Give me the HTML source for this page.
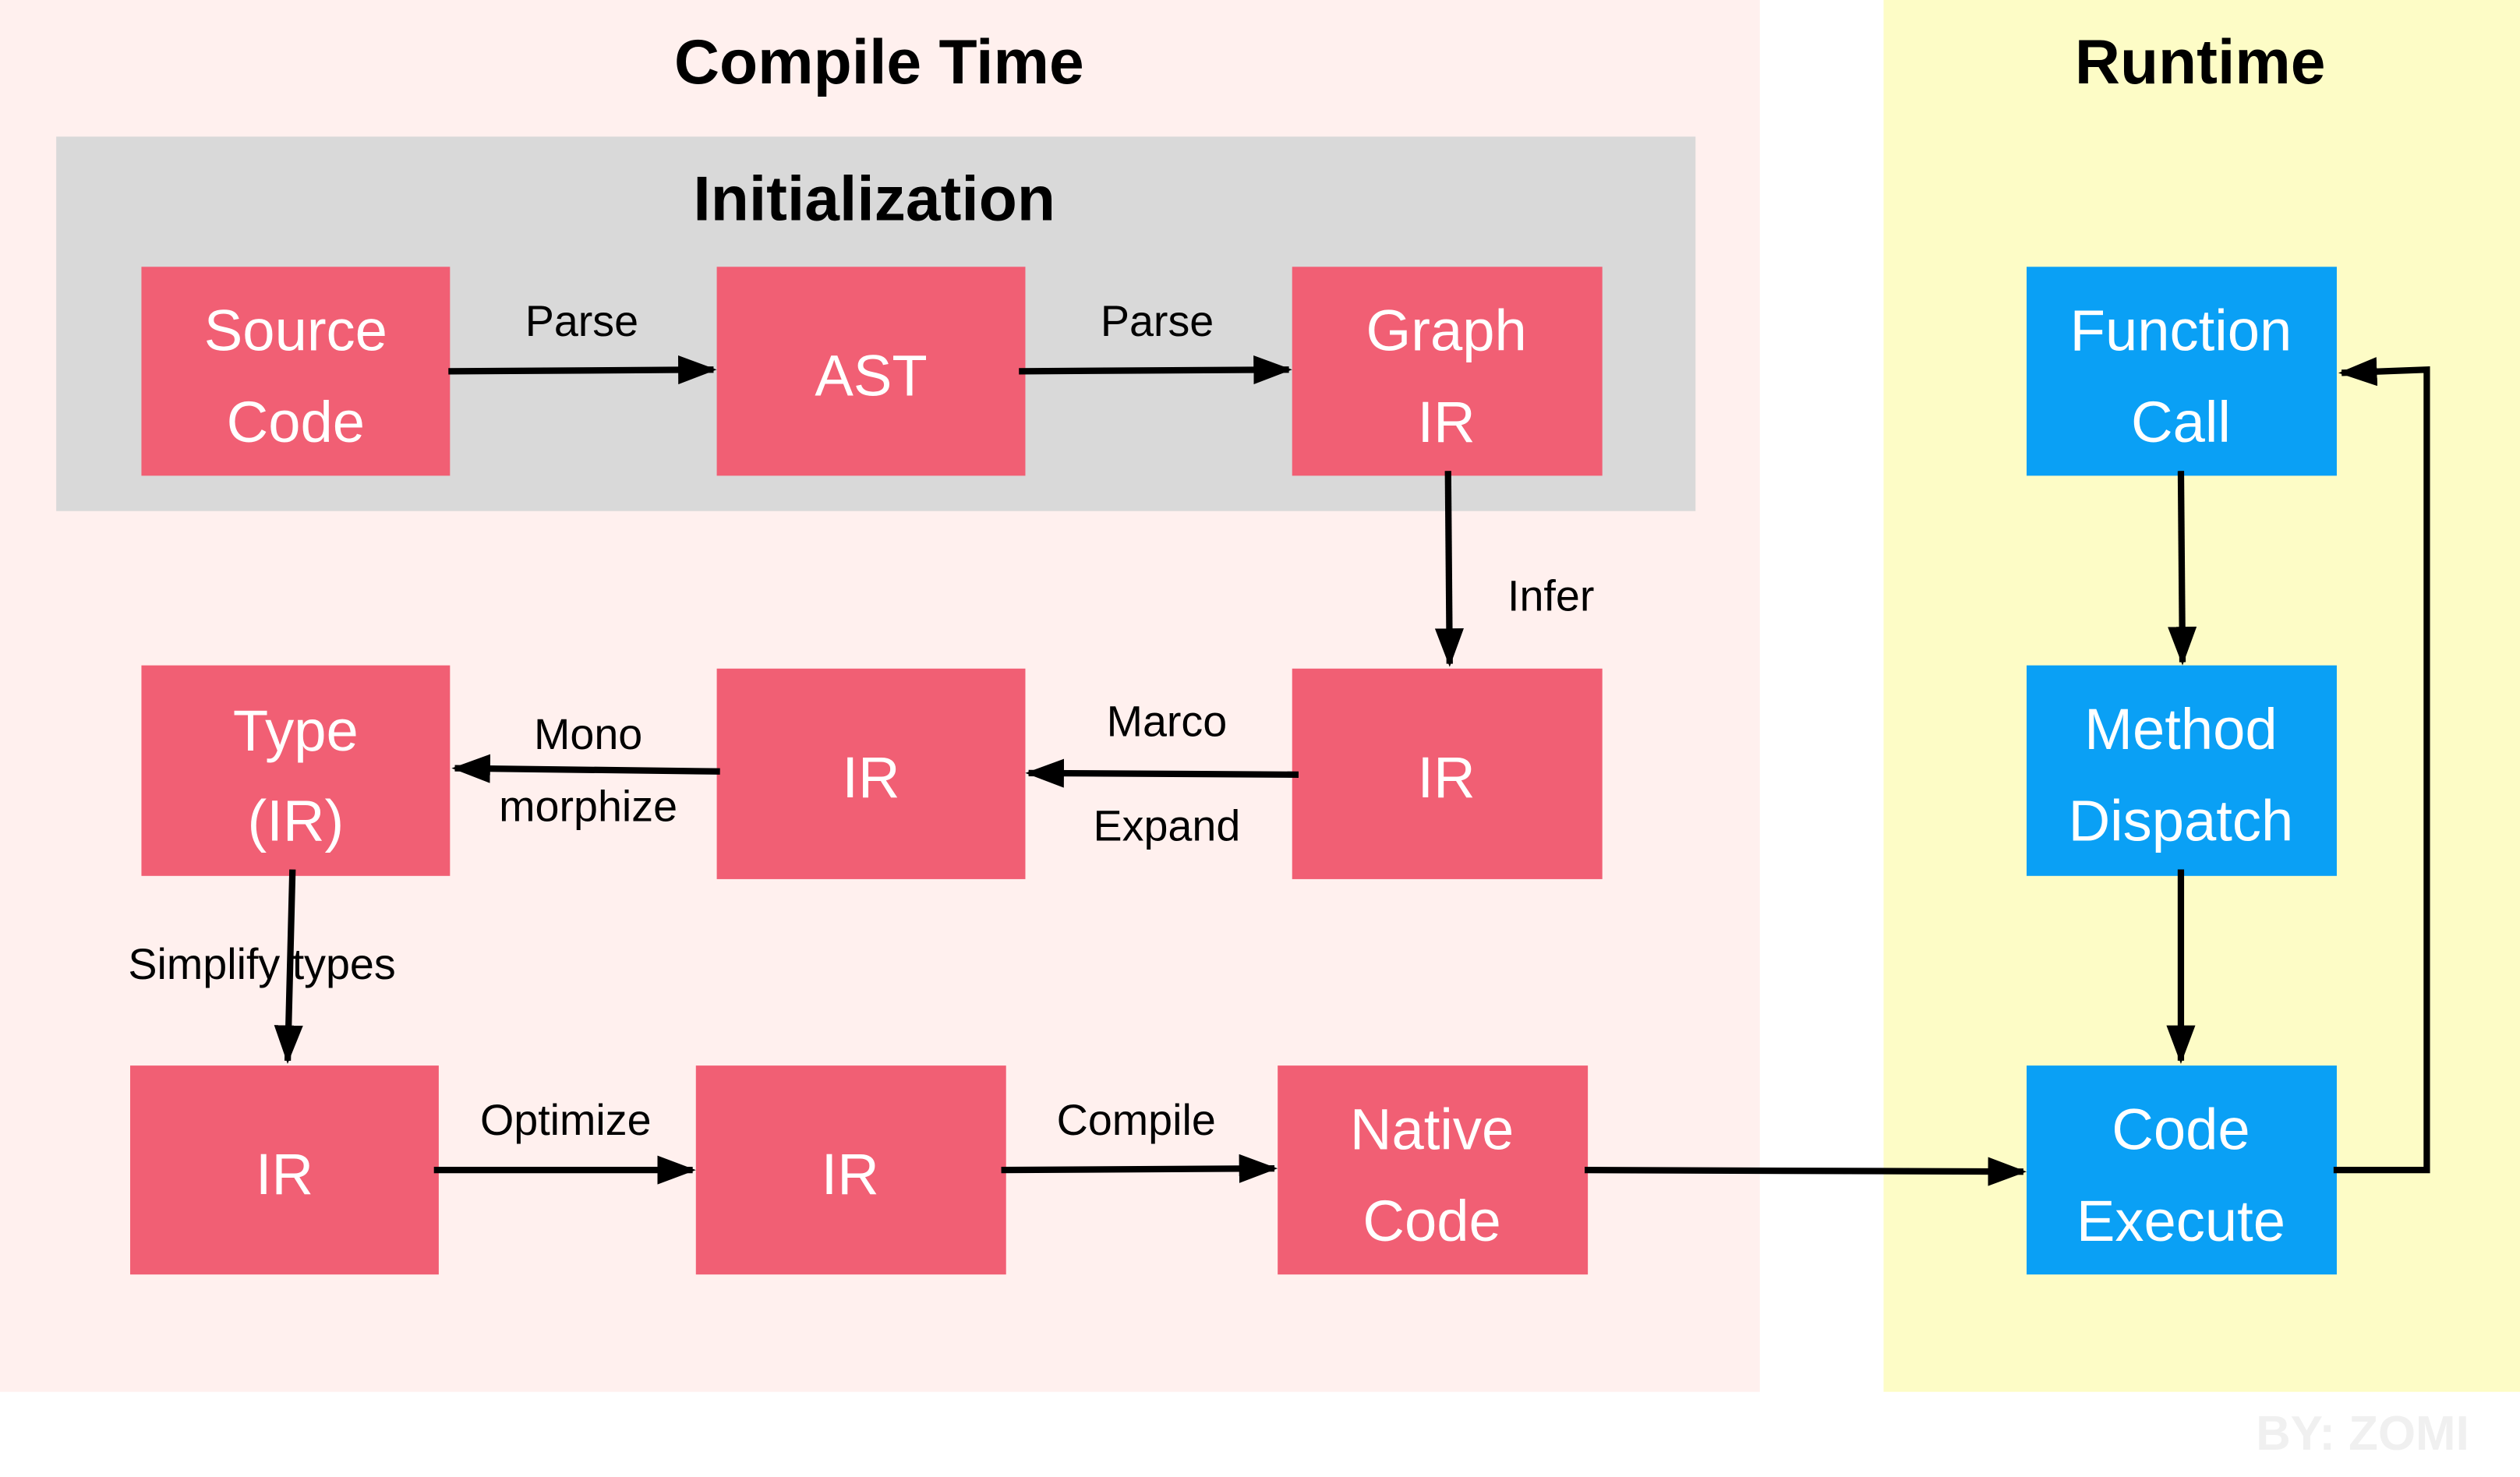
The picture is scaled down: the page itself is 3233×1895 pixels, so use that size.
<!DOCTYPE html>
<html><head><meta charset="utf-8"><style>
html,body{margin:0;padding:0;background:#fff;}
svg{display:block;}
text{font-family:"Liberation Sans",sans-serif;}
</style></head><body>
<svg width="3233" height="1895" viewBox="0 0 1568 919" preserveAspectRatio="none" xmlns="http://www.w3.org/2000/svg">
<defs>
<marker id="ahb" markerWidth="24" markerHeight="18" refX="22" refY="9" orient="auto" markerUnits="userSpaceOnUse">
<path d="M0,0 L24,9 L0,18 z" fill="#000"/>
</marker>
</defs>
<rect x="0" y="0" width="1568" height="919" fill="#fff"/>
<rect x="0" y="0" width="1095" height="866" fill="#fff0ee"/>
<rect x="1172" y="0" width="396" height="866" fill="#fdfcc6"/>
<text x="547" y="52" font-size="39" font-weight="bold" text-anchor="middle">Compile Time</text>
<text x="1369" y="52" font-size="39" font-weight="bold" text-anchor="middle">Runtime</text>
<rect x="35" y="85" width="1020" height="233" fill="#d9d9d9"/>
<text x="544" y="137" font-size="39" font-weight="bold" text-anchor="middle">Initialization</text>

<g font-size="36" fill="#fff" text-anchor="middle">
<rect x="88" y="166" width="192" height="130" fill="#f15f74"/>
<text x="184" y="218">Source</text><text x="184" y="275">Code</text>
<rect x="446" y="166" width="192" height="130" fill="#f15f74"/>
<text x="542" y="246">AST</text>
<rect x="804" y="166" width="193" height="130" fill="#f15f74"/>
<text x="900" y="218">Graph</text><text x="900" y="275">IR</text>
<rect x="88" y="414" width="192" height="131" fill="#f15f74"/>
<text x="184" y="467">Type</text><text x="184" y="523">(IR)</text>
<rect x="446" y="416" width="192" height="131" fill="#f15f74"/>
<text x="542" y="496">IR</text>
<rect x="804" y="416" width="193" height="131" fill="#f15f74"/>
<text x="900" y="496">IR</text>
<rect x="81" y="663" width="192" height="130" fill="#f15f74"/>
<text x="177" y="743">IR</text>
<rect x="433" y="663" width="193" height="130" fill="#f15f74"/>
<text x="529" y="743">IR</text>
<rect x="795" y="663" width="193" height="130" fill="#f15f74"/>
<text x="891" y="715">Native</text><text x="891" y="772">Code</text>
<rect x="1261" y="166" width="193" height="130" fill="#0aa0f5"/>
<text x="1357" y="218">Function</text><text x="1357" y="275">Call</text>
<rect x="1261" y="414" width="193" height="131" fill="#0aa0f5"/>
<text x="1357" y="466">Method</text><text x="1357" y="523">Dispatch</text>
<rect x="1261" y="663" width="193" height="130" fill="#0aa0f5"/>
<text x="1357" y="715">Code</text><text x="1357" y="772">Execute</text>
</g>

<g stroke="#000" stroke-width="4" fill="none">
<line x1="279" y1="231" x2="444" y2="230" marker-end="url(#ahb)"/>
<line x1="634" y1="231" x2="802" y2="230" marker-end="url(#ahb)"/>
<line x1="901" y1="293" x2="902" y2="413" marker-end="url(#ahb)"/>
<line x1="808" y1="482" x2="640" y2="481" marker-end="url(#ahb)"/>
<line x1="448" y1="480" x2="283" y2="478" marker-end="url(#ahb)"/>
<line x1="182" y1="541" x2="179" y2="660" marker-end="url(#ahb)"/>
<line x1="270" y1="728" x2="431" y2="728" marker-end="url(#ahb)"/>
<line x1="623" y1="728" x2="793" y2="727" marker-end="url(#ahb)"/>
<line x1="986" y1="728" x2="1259" y2="729" marker-end="url(#ahb)"/>
<line x1="1357" y1="293" x2="1358" y2="412" marker-end="url(#ahb)"/>
<line x1="1357" y1="541" x2="1357" y2="660" marker-end="url(#ahb)"/>
<polyline points="1452,728 1510,728 1510,230 1457,232" marker-end="url(#ahb)"/>
</g>

<g font-size="27" fill="#000" text-anchor="middle">
<text x="362" y="209">Parse</text>
<text x="720" y="209">Parse</text>
<text x="965" y="380">Infer</text>
<text x="726" y="458">Marco</text>
<text x="726" y="523">Expand</text>
<text x="366" y="466">Mono</text>
<text x="366" y="511">morphize</text>
<text x="163" y="609">Simplify types</text>
<text x="352" y="706">Optimize</text>
<text x="707" y="706">Compile</text>
</g>
<text x="1470" y="902" font-size="30" font-weight="bold" fill="#f0f0f0" text-anchor="middle">BY: ZOMI</text>
</svg>
</body></html>
